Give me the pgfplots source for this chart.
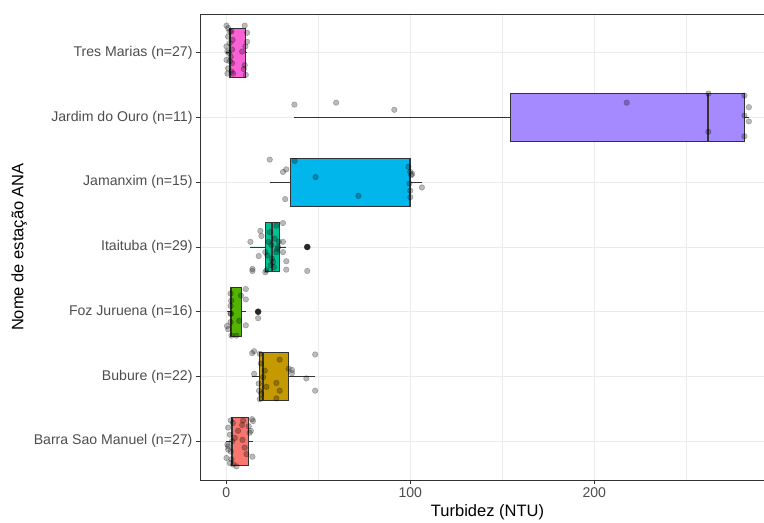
\documentclass[border=0pt]{standalone}
\usepackage{fontspec}
\setmainfont{Liberation Sans}
\usepackage{pgfplots}
\pgfplotsset{compat=1.18}
\usepgfplotslibrary{statistics}
\definecolor{cBarra}{HTML}{F8766D}
\definecolor{cBubure}{HTML}{C49A00}
\definecolor{cFoz}{HTML}{53B400}
\definecolor{cIta}{HTML}{00C094}
\definecolor{cJam}{HTML}{00B6EB}
\definecolor{cJard}{HTML}{A58AFF}
\definecolor{cTres}{HTML}{FB61D7}
\definecolor{gridc}{HTML}{EBEBEB}
\definecolor{tickc}{HTML}{333333}
\definecolor{labc}{HTML}{4D4D4D}
\pgfplotsset{
  bx/.style={draw=tickc, line width=0.75bp,
    boxplot/box extend=0.75, boxplot/whisker extend=0,
    boxplot/draw direction=x,
    boxplot/every median/.style={line width=1.7bp}},
  jit/.style={only marks, mark=*, mark size=2.8bp,
    mark options={draw=black, fill=black, opacity=0.27, line width=0.5bp}}
}
\begin{document}
\begin{tikzpicture}
\begin{axis}[
  at={(0,0)}, anchor=south west,
  scale only axis, width=575bp, height=466bp,
  xmin=-14.3, xmax=298.2, ymin=0.4, ymax=7.6,
  xtick={0,100,200}, minor xtick={50,150,250},
  ytick={1,2,3,4,5,6,7},
  yticklabels={Barra Sao Manuel (n=27), Bubure (n=22), Foz Juruena (n=16), Itaituba (n=29), Jamanxim (n=15), Jardim do Ouro (n=11), Tres Marias (n=27)},
  grid=both,
  major grid style={draw=gridc, line width=0.9bp},
  minor grid style={draw=gridc, line width=0.45bp},
  minor tick length=0pt, major tick length=4bp, tick align=outside,
  tick style={draw=tickc, line width=0.8bp},
  xtick pos=lower, ytick pos=left,
  axis line style={draw=tickc, line width=0.8bp},
  ticklabel style={font=\fontsize{14.1bp}{17bp}\selectfont, text=labc},
  /pgf/number format/assume math mode=true,
  xlabel={Turbidez (NTU)}, ylabel={Nome de estação ANA},
  label style={font=\fontsize{16.5bp}{20bp}\selectfont},
]
% boxes
\addplot[bx, fill=cBarra, boxplot prepared={draw position=1, lower whisker=0.1, lower quartile=2.5, median=3.0, upper quartile=12.2, upper whisker=14.5}] coordinates {};
\addplot[bx, fill=cBubure, boxplot prepared={draw position=2, lower whisker=14.0, lower quartile=18.2, median=20.0, upper quartile=33.9, upper whisker=48.3}] coordinates {};
\addplot[bx, fill=cFoz, boxplot prepared={draw position=3, lower whisker=0.4, lower quartile=2.3, median=2.7, upper quartile=8.2, upper whisker=10.6}] coordinates {};
\addplot[bx, fill=cIta, boxplot prepared={draw position=4, lower whisker=12.9, lower quartile=21.2, median=24.8, upper quartile=28.6, upper whisker=32.6}] coordinates {};
\addplot[bx, fill=cJam, boxplot prepared={draw position=5, lower whisker=23.6, lower quartile=35.0, median=99.5, upper quartile=100.0, upper whisker=106.3}] coordinates {};
\addplot[bx, fill=cJard, boxplot prepared={draw position=6, lower whisker=37.0, lower quartile=154.6, median=261.7, upper quartile=281.6, upper whisker=284.0}] coordinates {};
\addplot[bx, fill=cTres, boxplot prepared={draw position=7, lower whisker=0.1, lower quartile=1.6, median=2.2, upper quartile=10.3, upper whisker=11.3}] coordinates {};
% outliers
\addplot[only marks, mark=*, mark size=3bp, mark options={draw=black!85, fill=black!85}] coordinates {(44,4) (17.3,3)};
% jittered observations
\addplot[jit] table {
x y
9.1 1.32
8.6 1.25
14.0 1.34
14.5 1.31
4.6 1.05
8.8 1.02
12.7 1.13
14.2 0.76
1.0 1.21
1.0 0.92
5.5 0.61
13.3 1.16
2.4 1.32
0.6 0.95
1.0 0.87
2.4 0.84
0.1 0.74
2.8 0.72
1.9 0.66
3.7 0.64
1.9 1.10
3.1 1.00
12.2 1.23
10.0 0.90
6.4 1.16
11.0 0.80
3.5 1.28
};
\addplot[jit] table {
x y
14.0 2.36
15.1 2.39
15.1 2.04
21.8 1.84
27.2 1.90
29.0 2.26
29.0 1.78
27.2 1.66
35.7 2.10
35.7 2.05
43.5 1.97
48.3 2.34
48.3 1.78
18.2 1.65
17.8 1.78
17.6 1.89
18.2 2.35
18.7 2.20
20.0 1.99
18.9 1.73
33.9 2.12
20.9 2.09
};
\addplot[jit] table {
x y
10.6 3.35
10.6 3.19
17.3 2.90
10.6 2.79
1.0 2.73
2.3 3.28
2.3 3.09
2.3 2.97
2.3 2.84
2.5 2.97
2.8 2.63
5.5 2.63
0.4 2.78
2.6 3.17
7.0 2.86
8.0 3.25
};
\addplot[jit] table {
x y
13.1 4.08
18.5 4.25
19.1 4.17
17.6 3.86
14.2 3.66
14.2 3.63
21.2 3.61
32.6 3.78
32.6 3.65
44.0 3.63
30.8 4.08
30.8 3.92
27.2 4.33
30.8 4.37
23.0 4.08
21.2 3.92
22.3 3.87
24.5 4.03
24.8 3.82
25.4 3.77
24.1 3.72
25.9 3.69
27.7 3.97
28.6 4.08
26.3 4.13
23.6 4.23
27.2 3.92
21.8 3.64
28.2 4.00
};
\addplot[jit] table {
x y
23.6 5.35
30.8 5.16
32.6 5.20
32.0 4.74
37.1 5.33
48.5 5.08
71.8 4.79
106.3 4.92
99.0 5.24
100.0 5.16
101.0 5.13
100.5 5.11
99.5 4.98
100.0 4.87
100.0 4.77
};
\addplot[jit] table {
x y
37.0 6.20
59.7 6.23
91.3 6.12
217.6 6.23
262.0 6.37
262.0 5.78
281.6 6.34
281.6 6.03
281.6 5.71
284.0 6.16
284.0 5.94
};
\addplot[jit] table {
x y
0.1 7.42
10.0 7.42
11.3 7.31
11.3 7.17
8.6 7.02
10.0 6.81
10.6 6.66
0.1 6.89
1.0 7.38
2.8 7.33
1.0 7.25
1.9 7.15
3.1 7.05
0.6 7.02
2.4 6.94
1.9 6.87
3.1 6.84
1.0 6.76
2.8 6.71
0.6 6.68
3.7 6.68
1.9 7.33
0.1 7.10
1.4 7.00
3.4 7.20
10.4 7.10
9.5 6.75
};
\end{axis}
\pgfresetboundingbox
\path[use as bounding box] (-200bp,-43bp) rectangle (564bp,480bp);
\end{tikzpicture}
\end{document}
